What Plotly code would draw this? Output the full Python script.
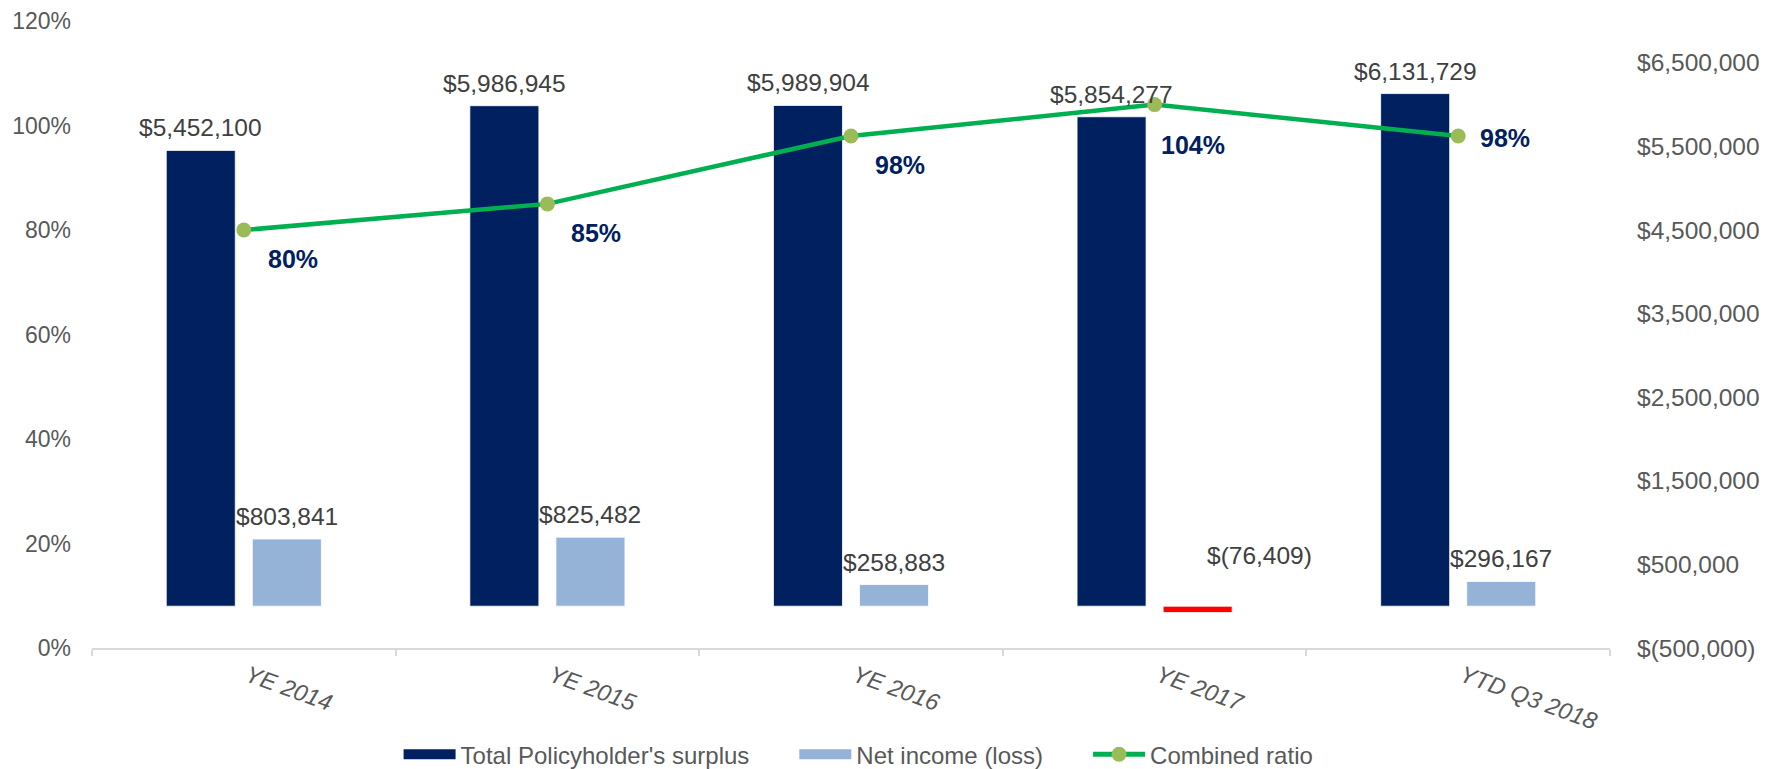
import plotly.graph_objects as go

# ---- data ----
categories = ["YE 2014", "YE 2015", "YE 2016", "YE 2017", "YTD Q3 2018"]
surplus = [5452100, 5986945, 5989904, 5854277, 6131729]
net_income = [803841, 825482, 258883, -76409, 296167]
combined_ratio = [80, 85, 98, 104, 98]
right_ticks = [-500000, 500000, 1500000, 2500000, 3500000, 4500000, 5500000, 6500000]
left_ticks = [0, 20, 40, 60, 80, 100, 120]

# ---- style ----
FONT = "Arial, Liberation Sans, sans-serif"
DARK = "#002060"
LIGHT = "#95B3D7"
NEG = "#FF0000"
GREEN = "#00B050"
MARK = "#9BBB59"
GRAY = "#595959"
LABEL = "#404040"
SLOT = 43  # px offset from category centre to bar centre
FS_LABEL = 24.5
NBSP = "\u00a0"

def money(v):
    s = "${:,.0f}".format(abs(v))
    return "$({:,.0f})".format(abs(v)) if v < 0 else s

fig = go.Figure()
fig.add_trace(go.Bar(
    x=categories, y=surplus, name="Total Policyholder's surplus",
    marker=dict(color=DARK, line=dict(width=0.8, color="white")), yaxis="y",
    hoverinfo="skip", showlegend=False,
))
fig.add_trace(go.Bar(
    x=categories, y=net_income, name="Net income (loss)",
    marker=dict(color=[LIGHT if v >= 0 else NEG for v in net_income],
                line=dict(width=0.8, color="white")), yaxis="y",
    hoverinfo="skip", showlegend=False,
))
fig.add_trace(go.Scatter(
    x=categories, y=combined_ratio, name="Combined ratio", yaxis="y2",
    mode="lines+markers", line=dict(color=GREEN, width=4.5),
    marker=dict(color=MARK, size=15), hoverinfo="skip", showlegend=False,
))
# legend entries (wide rectangular swatches like the original)
for nm, col in [("Total Policyholder's surplus", DARK), ("Net income (loss)", LIGHT)]:
    fig.add_trace(go.Scatter(x=[None], y=[None], name=nm + NBSP * 6, mode="lines", yaxis="y",
                             line=dict(color=col, width=14)))
fig.add_trace(go.Scatter(x=[None], y=[None], name="Combined ratio", mode="lines+markers", yaxis="y2",
                         line=dict(color=GREEN, width=5), marker=dict(color=MARK, size=15)))

annotations = []
for c, v in zip(categories, surplus):
    annotations.append(dict(x=c, y=v, xref="x", yref="y", text=money(v), showarrow=False,
                            xshift=-SLOT, yanchor="bottom", yshift=7,
                            font=dict(family=FONT, size=FS_LABEL, color=LABEL)))
for c, v in zip(categories, net_income):
    if v >= 0:
        annotations.append(dict(x=c, y=v, xref="x", yref="y", text=money(v), showarrow=False,
                                xshift=SLOT, yanchor="bottom", yshift=7,
                                font=dict(family=FONT, size=FS_LABEL, color=LABEL)))
    else:
        annotations.append(dict(x=c, y=0, xref="x", yref="y", text=money(v), showarrow=False,
                                xshift=SLOT + 62, yanchor="middle", yshift=51,
                                font=dict(family=FONT, size=FS_LABEL, color=LABEL)))
# label offsets (px) for the combined ratio labels: (dx to left edge, dy of centre, up positive)
ratio_label_offsets = [(22, -29), (22, -29), (22, -29), (4, -40), (20, -2)]
for c, v, (dx, dy) in zip(categories, combined_ratio, ratio_label_offsets):
    annotations.append(dict(x=c, y=v, xref="x", yref="y2", text="<b>%d%%</b>" % v, showarrow=False,
                            xanchor="left", yanchor="middle", xshift=dx, yshift=dy,
                            font=dict(family=FONT, size=25, color=DARK)))

# the page adds an 8px body margin, so the figure is 8px smaller than the window
fig.update_layout(
    width=1765, height=761,
    margin=dict(l=84, r=163, t=13, b=121, autoexpand=False),
    paper_bgcolor="white", plot_bgcolor="white",
    barmode="group", bargap=0.433, bargroupgap=0.198,
    font=dict(family=FONT, size=23, color=GRAY),
    showlegend=True,
    legend=dict(orientation="h", x=0.505, xanchor="center", y=-0.17, yanchor="middle",
                font=dict(family=FONT, size=24, color=GRAY), traceorder="normal",
                itemwidth=52),
    xaxis=dict(
        showgrid=False, showline=True, linecolor="#D9D9D9", linewidth=2,
        ticks="outside", tickson="boundaries", ticklen=6, tickcolor="#D9D9D9", tickwidth=2,
        tickangle=20, tickfont=dict(family=FONT, size=23.5, color=GRAY, style="italic"),
        ticklabelstandoff=3, ticklabelshift=4,
        automargin=False, fixedrange=True,
    ),
    yaxis=dict(
        side="right", range=[-500000, 7000000], showgrid=False, zeroline=False,
        tickvals=right_ticks, ticktext=[money(v) for v in right_ticks], automargin=False,
        tickfont=dict(family=FONT, size=24.5, color=GRAY), ticks="", ticklabelstandoff=26,
    ),
    yaxis2=dict(
        overlaying="y", side="left", range=[0, 120], showgrid=False, zeroline=False,
        tickvals=left_ticks, ticktext=["%d%%" % v for v in left_ticks], automargin=False,
        tickfont=dict(family=FONT, size=23, color=GRAY), ticks="", ticklabelstandoff=20,
    ),
    annotations=annotations,
)

fig.write_html("out.html")
